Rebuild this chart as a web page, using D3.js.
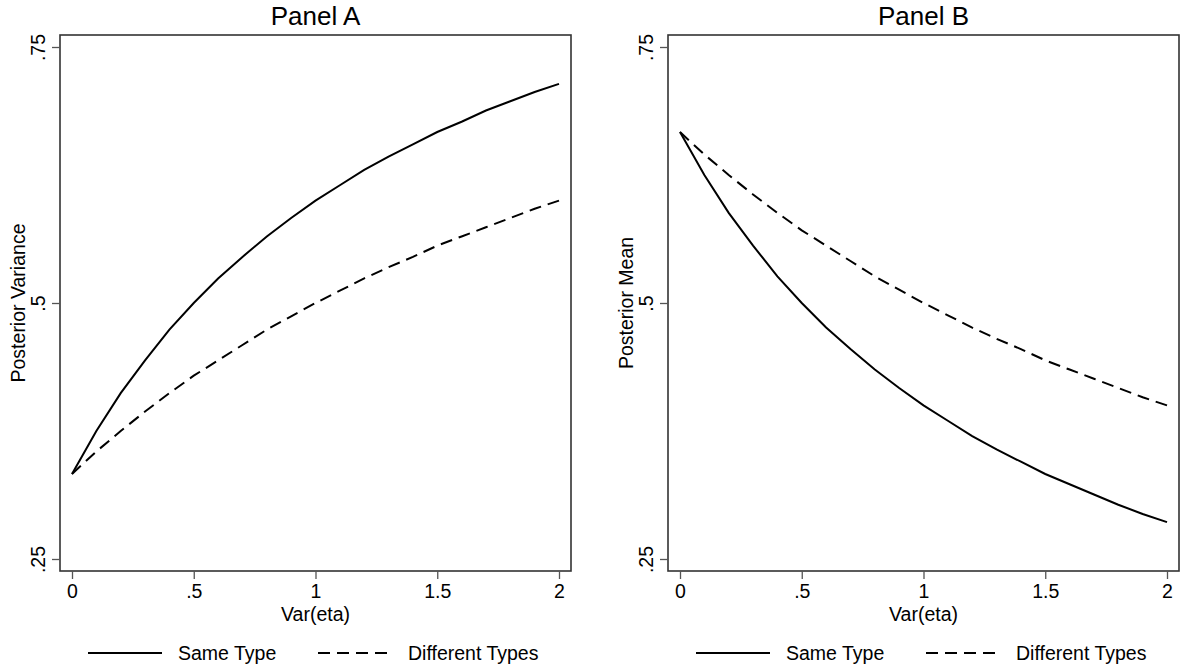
<!DOCTYPE html>
<html>
<head>
<meta charset="utf-8">
<script src="https://cdn.jsdelivr.net/npm/d3@7"></script>
<style>
  html, body { margin: 0; padding: 0; background: #fff; }
  svg { display: block; font-family: "Liberation Sans", Arial, sans-serif; }
</style>
</head>
<body>
<svg id="chart" width="1181" height="671"></svg>
<script>
// Var(eta) grid shared by all curves
const varEta = [0, 0.1, 0.2, 0.3, 0.4, 0.5, 0.6, 0.7, 0.8, 0.9, 1.0,
                1.1, 1.2, 1.3, 1.4, 1.5, 1.6, 1.7, 1.8, 1.9, 2.0];

// Panel A: posterior variance
const varianceSame = [0.333, 0.375, 0.412, 0.444, 0.474, 0.500, 0.524, 0.545, 0.565, 0.583, 0.600,
                      0.615, 0.630, 0.643, 0.655, 0.667, 0.677, 0.688, 0.697, 0.706, 0.714];
const varianceDiff = [0.333, 0.355, 0.375, 0.394, 0.412, 0.429, 0.444, 0.459, 0.474, 0.487, 0.500,
                      0.512, 0.524, 0.535, 0.545, 0.556, 0.565, 0.574, 0.583, 0.592, 0.600];

// Panel B: posterior mean
const meanSame = [0.667, 0.625, 0.588, 0.556, 0.526, 0.500, 0.476, 0.455, 0.435, 0.417, 0.400,
                  0.385, 0.370, 0.357, 0.345, 0.333, 0.323, 0.313, 0.303, 0.294, 0.286];
const meanDiff = [0.667, 0.645, 0.625, 0.606, 0.588, 0.571, 0.556, 0.541, 0.526, 0.513, 0.500,
                  0.488, 0.476, 0.465, 0.455, 0.444, 0.435, 0.426, 0.417, 0.408, 0.400];

const xTicks = [0, 0.5, 1, 1.5, 2];
const xTickLabels = ["0", ".5", "1", "1.5", "2"];
const yTicks = [0.25, 0.5, 0.75];
const yTickLabels = [".25", ".5", ".75"];
const seriesNames = ["Same Type", "Different Types"];

const panels = [
  { title: "Panel A", yTitle: "Posterior Variance", series: [varianceSame, varianceDiff], left: 60 },
  { title: "Panel B", yTitle: "Posterior Mean", series: [meanSame, meanDiff], left: 668 }
];

const svg = d3.select("#chart");
const dashPattern = "12,7";
const fontSize = 19.5;

panels.forEach(p => {
  const boxW = 511, top = 35, bottom = 571, pad = 12;
  const x = d3.scaleLinear().domain([0, 2]).range([p.left + pad, p.left + boxW - pad]);
  const y = d3.scaleLinear().domain([0.25, 0.75]).range([bottom - pad, top + pad]);
  const g = svg.append("g");

  // plot frame
  g.append("rect")
    .attr("x", p.left).attr("y", top)
    .attr("width", boxW).attr("height", bottom - top)
    .attr("fill", "none").attr("stroke", "#333").attr("stroke-width", 1.6);

  // x axis
  const xAxis = d3.axisBottom(x).tickValues(xTicks)
    .tickFormat((d, i) => xTickLabels[i]).tickSize(8).tickPadding(5);
  const xg = g.append("g").attr("transform", `translate(0,${bottom})`).call(xAxis);
  xg.select(".domain").remove();
  xg.selectAll(".tick line").attr("stroke", "#555").attr("stroke-width", 1.3);
  xg.selectAll(".tick text").attr("font-size", fontSize).attr("fill", "#000")
    .attr("font-family", "Liberation Sans, Arial, sans-serif");

  // y axis with rotated labels
  const yAxis = d3.axisLeft(y).tickValues(yTicks)
    .tickFormat((d, i) => yTickLabels[i]).tickSize(8);
  const yg = g.append("g").attr("transform", `translate(${p.left},0)`).call(yAxis);
  yg.select(".domain").remove();
  yg.selectAll(".tick line").attr("stroke", "#555").attr("stroke-width", 1.3);
  yg.selectAll(".tick text")
    .attr("font-size", fontSize).attr("fill", "#000")
    .attr("font-family", "Liberation Sans, Arial, sans-serif")
    .attr("x", null).attr("dy", null)
    .attr("text-anchor", "middle")
    .attr("transform", "translate(-15,0) rotate(-90)");

  // title
  g.append("text")
    .attr("x", p.left + boxW / 2).attr("y", 25)
    .attr("text-anchor", "middle").attr("font-size", 26).attr("fill", "#000")
    .text(p.title);

  // axis titles
  g.append("text")
    .attr("x", p.left + boxW / 2).attr("y", 621)
    .attr("text-anchor", "middle").attr("font-size", fontSize).attr("fill", "#000")
    .text("Var(eta)");
  g.append("text")
    .attr("transform", `translate(${p.left - 35},${(top + bottom) / 2}) rotate(-90)`)
    .attr("text-anchor", "middle").attr("font-size", fontSize).attr("fill", "#000")
    .text(p.yTitle);

  // curves
  const line = d3.line().x((d, i) => x(varEta[i])).y(d => y(d));
  p.series.forEach((vals, si) => {
    g.append("path")
      .datum(vals)
      .attr("d", line)
      .attr("fill", "none").attr("stroke", "#000").attr("stroke-width", 2)
      .attr("stroke-dasharray", si === 1 ? dashPattern : null);
  });

  // legend
  const lg = g.append("g");
  const legendY = 653;
  const items = [
    { x0: p.left + 28, dash: null },
    { x0: p.left + 258, dash: dashPattern }
  ];
  items.forEach((it, i) => {
    lg.append("line")
      .attr("x1", it.x0).attr("x2", it.x0 + 74)
      .attr("y1", legendY).attr("y2", legendY)
      .attr("stroke", "#000").attr("stroke-width", 2)
      .attr("stroke-dasharray", it.dash);
    lg.append("text")
      .attr("x", it.x0 + 90).attr("y", legendY + 7)
      .attr("font-size", fontSize).attr("fill", "#000")
      .text(seriesNames[i]);
  });
});
</script>
</body>
</html>
